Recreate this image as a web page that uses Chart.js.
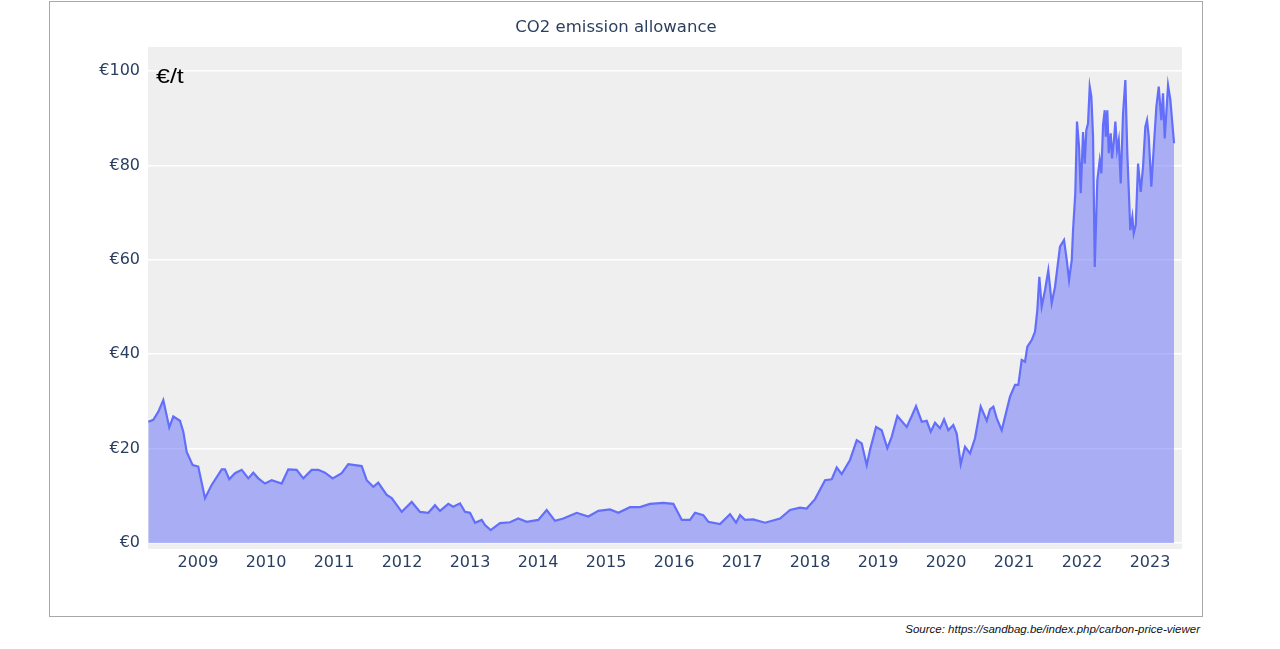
<!DOCTYPE html>
<html>
<head>
<meta charset="utf-8">
<title>CO2 emission allowance</title>
<script src="https://cdn.jsdelivr.net/npm/chart.js"></script>
<style>
  body { margin: 0; background: #fff; width: 1280px; height: 649px; overflow: hidden; position: relative; }
  #frame { position: absolute; left: 49px; top: 1px; width: 1152px; height: 614px; border: 1px solid #a8a8a8; }
  #unit { position: absolute; left: 156px; top: 66px; font: 20px "Liberation Sans", Arial, sans-serif; line-height: 20px; color: #000; transform: scaleX(1.25); transform-origin: left top; }
  #source { position: absolute; right: 80px; top: 622px; font: italic 11.5px "Liberation Sans", Arial, sans-serif; line-height: 14px; color: #111; }
</style>
</head>
<body>
<div id="frame"><canvas id="co2_price" width="1152" height="614"></canvas></div>
<div id="unit">€/t</div>
<div id="source">Source: https://sandbag.be/index.php/carbon-price-viewer</div>
<script>
// dates as decimal years, prices in €/t
var dates = [
  2008.269, 2008.343, 2008.416, 2008.490, 2008.578, 2008.637, 2008.735, 2008.784, 2008.834, 2008.922,
  2009.004, 2009.103, 2009.201, 2009.349, 2009.397, 2009.460, 2009.544, 2009.643, 2009.740, 2009.813,
  2009.887, 2009.985, 2010.084, 2010.231, 2010.328, 2010.451, 2010.549, 2010.672, 2010.769, 2010.868,
  2010.981, 2011.113, 2011.210, 2011.407, 2011.481, 2011.578, 2011.651, 2011.775, 2011.849, 2011.996,
  2012.143, 2012.265, 2012.387, 2012.485, 2012.559, 2012.681, 2012.754, 2012.853, 2012.926, 2013.000,
  2013.074, 2013.172, 2013.221, 2013.304, 2013.441, 2013.588, 2013.710, 2013.834, 2014.004, 2014.128,
  2014.250, 2014.372, 2014.569, 2014.740, 2014.887, 2015.059, 2015.181, 2015.353, 2015.500, 2015.647,
  2015.843, 2015.990, 2016.113, 2016.235, 2016.309, 2016.431, 2016.504, 2016.676, 2016.824, 2016.912,
  2016.971, 2017.044, 2017.166, 2017.338, 2017.559, 2017.706, 2017.853, 2017.951, 2018.074, 2018.221,
  2018.319, 2018.393, 2018.466, 2018.588, 2018.687, 2018.760, 2018.834, 2018.882, 2018.971, 2019.054,
  2019.137, 2019.201, 2019.284, 2019.422, 2019.496, 2019.559, 2019.643, 2019.716, 2019.775, 2019.838,
  2019.912, 2019.971, 2020.034, 2020.107, 2020.157, 2020.216, 2020.279, 2020.353, 2020.426, 2020.510,
  2020.599, 2020.647, 2020.696, 2020.746, 2020.819, 2020.941, 2021.015, 2021.063, 2021.113, 2021.162,
  2021.196, 2021.260, 2021.309, 2021.343, 2021.372, 2021.407, 2021.456, 2021.504, 2021.554, 2021.603,
  2021.676, 2021.735, 2021.775, 2021.809, 2021.849, 2021.868, 2021.901, 2021.926, 2021.956, 2021.981,
  2022.015, 2022.040, 2022.063, 2022.088, 2022.113, 2022.137, 2022.162, 2022.187, 2022.225, 2022.260,
  2022.284, 2022.309, 2022.334, 2022.349, 2022.372, 2022.393, 2022.422, 2022.441, 2022.471, 2022.490,
  2022.515, 2022.540, 2022.569, 2022.603, 2022.637, 2022.666, 2022.691, 2022.710, 2022.740, 2022.760,
  2022.790, 2022.824, 2022.863, 2022.897, 2022.931, 2022.956, 2022.981, 2023.019, 2023.059, 2023.093,
  2023.128, 2023.166, 2023.191, 2023.216, 2023.265, 2023.299, 2023.328, 2023.353
];
var prices = [
  25.7, 26.1, 27.8, 30.3, 24.5, 26.8, 25.9, 23.6, 19.3, 16.5,
  16.2, 9.5, 12.3, 15.6, 15.6, 13.5, 14.8, 15.5, 13.7, 14.9,
  13.7, 12.6, 13.3, 12.6, 15.6, 15.5, 13.7, 15.5, 15.5, 14.9,
  13.7, 14.8, 16.7, 16.3, 13.3, 11.9, 12.8, 10.2, 9.5, 6.6,
  8.7, 6.6, 6.4, 8.0, 6.8, 8.3, 7.7, 8.4, 6.6, 6.4,
  4.3, 4.9, 3.8, 2.75, 4.2, 4.4, 5.2, 4.5, 4.9, 7.0,
  4.7, 5.2, 6.4, 5.6, 6.8, 7.1, 6.4, 7.6, 7.6, 8.3,
  8.5, 8.3, 4.9, 4.9, 6.4, 5.9, 4.5, 4.0, 6.1, 4.3,
  5.9, 4.9, 5.0, 4.3, 5.2, 7.0, 7.5, 7.3, 9.3, 13.3,
  13.5, 16.0, 14.6, 17.6, 21.8, 21.1, 16.5, 19.7, 24.6, 23.9,
  20.1, 22.5, 26.9, 24.6, 26.9, 29.0, 25.7, 25.9, 23.6, 25.5,
  24.3, 26.2, 23.9, 25.0, 23.2, 16.7, 20.4, 19.0, 22.2, 28.9,
  25.9, 28.3, 28.9, 26.4, 23.9, 31.0, 33.5, 33.5, 38.8, 38.4,
  41.6, 43.0, 44.8, 49.4, 56.4, 50.1, 53.6, 57.8, 50.8, 54.3,
  62.8, 64.2, 60.0, 55.7, 60.0, 66.3, 74.1, 89.3, 84.0, 74.1,
  87.1, 80.4, 87.5, 88.9, 96.7, 94.6, 86.1, 58.5, 76.9, 81.1,
  78.3, 88.6, 91.7, 86.1, 91.7, 82.6, 86.8, 81.5, 85.7, 89.3,
  83.3, 85.4, 76.2, 91.0, 98.1, 82.6, 73.4, 66.3, 69.1, 65.6,
  67.4, 80.4, 74.4, 79.7, 88.2, 89.6, 86.1, 75.5, 84.7, 92.4,
  96.7, 89.6, 95.3, 85.7, 97.0, 93.9, 88.9, 84.7
];
var yearTicks = [2009, 2010, 2011, 2012, 2013, 2014, 2015, 2016, 2017, 2018, 2019, 2020, 2021, 2022, 2023];
var priceTicks = [0, 20, 40, 60, 80, 100];

var points = dates.map(function (d, i) { return { x: d, y: prices[i] }; });
var tickFont = { family: "'DejaVu Sans', Verdana, sans-serif", size: 16 };

// grey plot background like the original
var plotBackground = {
  id: 'plotBackground',
  beforeDraw: function (chart) {
    var a = chart.chartArea;
    var c = chart.ctx;
    c.save();
    c.fillStyle = '#efefef';
    c.fillRect(a.left, a.top, a.right - a.left, a.bottom - a.top);
    c.restore();
  }
};

var ctx = document.getElementById("co2_price");
var co2Chart = new Chart(ctx, {
  type: 'line',
  data: {
    datasets: [{
      data: points,
      label: "CO2 emission allowance",
      borderColor: "#636efa",
      backgroundColor: "rgba(99,110,250,0.5)",
      borderWidth: 2.2,
      pointRadius: 0,
      tension: 0,
      fill: 'origin'
    }]
  },
  options: {
    responsive: false,
    animation: false,
    devicePixelRatio: 1,
    layout: { padding: { left: 0, right: 20, top: 0, bottom: 0 } },
    plugins: {
      legend: { display: false },
      tooltip: { enabled: false },
      title: {
        display: true,
        text: 'CO2 emission allowance',
        color: '#2a3f5f',
        font: { family: "'DejaVu Sans', Verdana, sans-serif", size: 16.5, weight: 'normal' },
        padding: { top: 16, bottom: 9.2 }
      }
    },
    scales: {
      x: {
        type: 'linear',
        min: 2008.265,
        max: 2023.47,
        grid: { display: false, drawTicks: false },
        border: { display: false },
        afterBuildTicks: function (scale) {
          scale.ticks = yearTicks.map(function (v) { return { value: v }; });
        },
        afterFit: function (scale) { scale.height = 67; },
        ticks: {
          color: '#2a3f5f',
          font: tickFont,
          padding: 4,
          maxRotation: 0,
          autoSkip: false,
          callback: function (v) { return String(v); }
        }
      },
      y: {
        min: -1.27,
        max: 105.1,
        grid: { color: '#ffffff', lineWidth: 1.5, drawTicks: false },
        border: { display: false },
        afterBuildTicks: function (scale) {
          scale.ticks = priceTicks.map(function (v) { return { value: v }; });
        },
        afterFit: function (scale) { scale.width = 98; },
        ticks: {
          color: '#2a3f5f',
          font: tickFont,
          padding: 8,
          callback: function (v) { return '€' + v; }
        }
      }
    }
  },
  plugins: [plotBackground]
});
</script>
</body>
</html>
